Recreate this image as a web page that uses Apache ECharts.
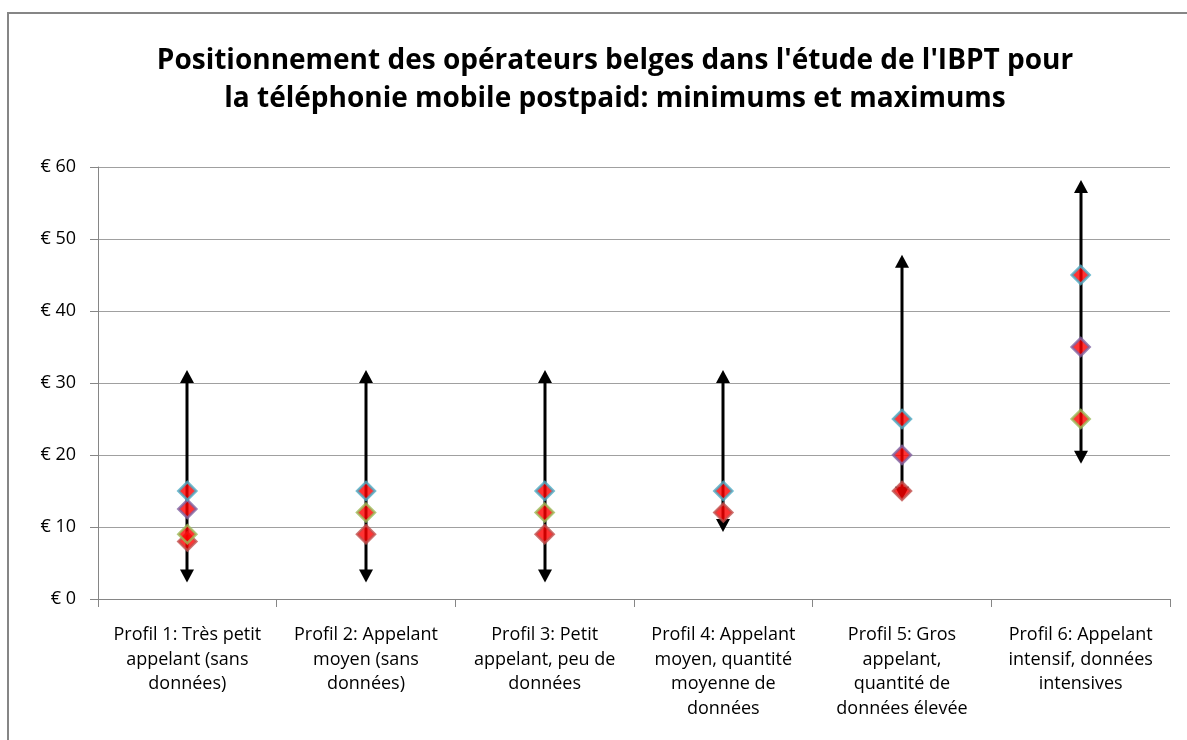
<!DOCTYPE html>
<html>
<head>
<meta charset="utf-8">
<script src="https://cdn.jsdelivr.net/npm/echarts@6/dist/echarts.min.js"></script>
<style>
  html, body { margin: 0; padding: 0; background: #fff; }
  #chart { width: 1187px; height: 740px; }
</style>
</head>
<body>
<div id="chart"></div>
<script>
// profils (catégories de l'axe x)
var profils = [
  'Profil 1: Très petit\nappelant (sans\ndonnées)',
  'Profil 2: Appelant\nmoyen (sans\ndonnées)',
  'Profil 3: Petit\nappelant, peu de\ndonnées',
  'Profil 4: Appelant\nmoyen, quantité\nmoyenne de\ndonnées',
  'Profil 5: Gros\nappelant,\nquantité de\ndonnées élevée',
  'Profil 6: Appelant\nintensif, données\nintensives'
];
// flèches min / max (pointes)
var minimums = [2.3, 2.3, 2.3, 9.3, 13.8, 18.8];
var maximums = [31.8, 31.8, 31.8, 31.8, 47.8, 58.2];
// positions des opérateurs (losanges)
var serieRouge  = [8, 9, 9, 12, 15, null];
var serieVerte  = [9, 12, 12, null, null, 25];
var serieViolet = [12.5, null, null, null, 20, 35];
var serieBleue  = [15, 15, 15, 15, 25, 45];

var font = '"Open Sans"';
var chart = echarts.init(document.getElementById('chart'));

var fleches = profils.map(function (p, i) { return [i, minimums[i], maximums[i]]; });

function losange(nom, valeurs, bord) {
  return {
    name: nom,
    type: 'scatter',
    symbol: 'diamond',
    symbolSize: [18, 18],
    itemStyle: { color: '#ff0000', borderColor: bord, borderWidth: 2.5 },
    data: valeurs,
    z: 5
  };
}

chart.setOption({
  animation: false,
  backgroundColor: '#fff',
  title: {
    text: "Positionnement des opérateurs belges dans l'étude de l'IBPT pour\nla téléphonie mobile postpaid: minimums et maximums",
    left: 610,
    textAlign: 'center',
    top: 37,
    textStyle: { fontFamily: font, fontWeight: 'bold', fontSize: 28, color: '#000', lineHeight: 38 }
  },
  graphic: [{
    type: 'rect',
    shape: { x: 8, y: 13, width: 1300, height: 900 },
    style: { fill: 'none', stroke: '#868686', lineWidth: 2 },
    silent: true
  }],
  grid: { left: 98, right: 17, top: 167, bottom: 141 },
  xAxis: {
    type: 'category',
    data: profils,
    boundaryGap: true,
    axisLine: { lineStyle: { color: '#868686', width: 1 } },
    axisTick: { show: true, length: 8, interval: 0, lineStyle: { color: '#868686' } },
    axisLabel: {
      interval: 0,
      color: '#000',
      fontFamily: font,
      fontSize: 18,
      lineHeight: 24.5,
      margin: 24
    }
  },
  yAxis: {
    type: 'value',
    min: 0,
    max: 60,
    interval: 10,
    axisLine: { show: true, lineStyle: { color: '#868686' } },
    axisTick: { show: true, length: 8, lineStyle: { color: '#868686' } },
    splitLine: { lineStyle: { color: '#a0a0a0', width: 1 } },
    axisLabel: {
      color: '#000',
      fontFamily: font,
      fontSize: 18,
      margin: 22,
      formatter: function (v) { return '€ ' + v; }
    }
  },
  series: [
    {
      type: 'custom',
      data: fleches,
      encode: { x: 0, y: [1, 2] },
      z: 3,
      renderItem: function (params, api) {
        var bas = api.coord([api.value(0), api.value(1)]);
        var haut = api.coord([api.value(0), api.value(2)]);
        var x = Math.round(bas[0]);
        var w = 7, h = 13;
        return {
          type: 'group',
          children: [
            { type: 'line', shape: { x1: x, y1: haut[1] + h - 1, x2: x, y2: bas[1] - h + 1 },
              style: { stroke: '#000', lineWidth: 3 } },
            { type: 'polygon', shape: { points: [[x, haut[1]], [x - w, haut[1] + h], [x + w, haut[1] + h]] },
              style: { fill: '#000' } },
            { type: 'polygon', shape: { points: [[x, bas[1]], [x - w, bas[1] - h], [x + w, bas[1] - h]] },
              style: { fill: '#000' } }
          ]
        };
      }
    },
    losange('Rouge', serieRouge, '#c0504d'),
    losange('Verte', serieVerte, '#9bbb59'),
    losange('Violet', serieViolet, '#8064a2'),
    losange('Bleue', serieBleue, '#4bacc6')
  ]
});
</script>
</body>
</html>
